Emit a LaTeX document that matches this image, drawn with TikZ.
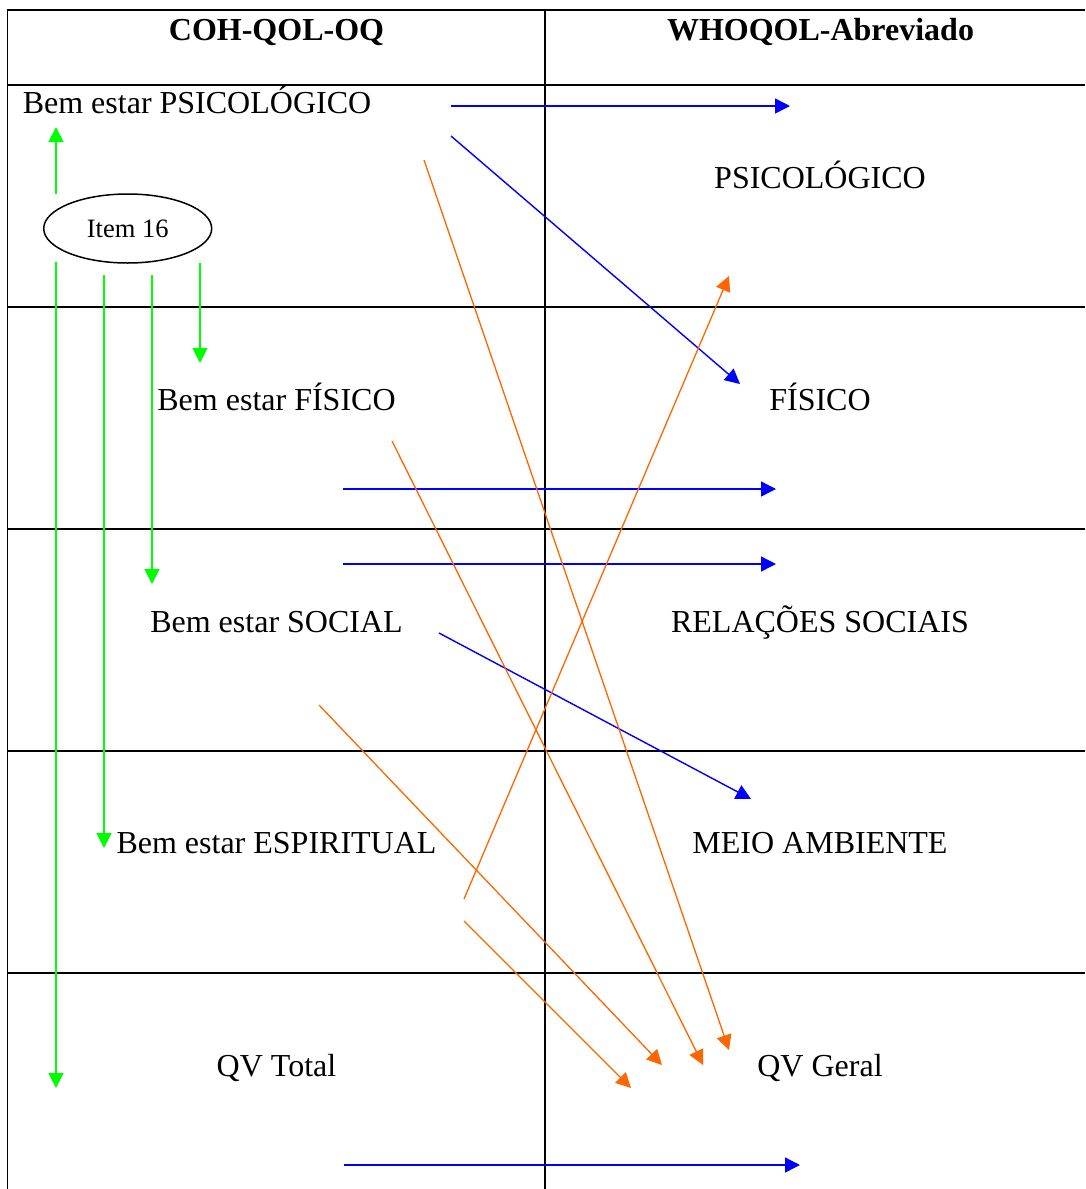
\documentclass[tikz,border=0pt]{standalone}
\usepackage{fontspec}
\setmainfont{Liberation Serif}
\usetikzlibrary{arrows.meta,shapes.geometric}
\definecolor{verde}{RGB}{0,255,0}
\definecolor{azul}{RGB}{0,0,255}
\definecolor{laranja}{RGB}{255,102,0}
\begin{document}
\begin{tikzpicture}[x=1pt,y=-1pt]
\tikzset{grade/.style={line width=1.5pt},
  rotulo/.style={font=\fontsize{32}{38}\selectfont, inner sep=0pt, anchor=base},
  titulo/.style={rotulo, font=\fontsize{32}{38}\selectfont\bfseries},
  seta/.style={-{Triangle[length=15pt,width=15pt]}},
  setaverde/.style={seta, draw=verde, line width=1.8pt},
  setaazul/.style={seta, draw=azul, fill=azul, line width=1.4pt},
  setalaranja/.style={seta, draw=laranja, fill=laranja, line width=1.3pt}}
\useasboundingbox (0,0) rectangle (1085,1189);
\draw[grade] (1085,10) -- (7.6,10) -- (7.6,1189);
\draw[grade] (545,10) -- (545,1189);
\foreach \y in {85,307,529,751,973}
  \draw[grade] (7.6,\y) -- (1085,\y);
\node[titulo] (coh) at (276.5,40) {COH-QOL-OQ};
\node[titulo] (who) at (820.5,40) {WHOQOL-Abreviado};
\node[rotulo, anchor=base west] (bpsi) at (22.6,113) {Bem estar PSICOLÓGICO};
\node[rotulo] (bfis) at (276.5,410) {Bem estar FÍSICO};
\node[rotulo] (bsoc) at (276.5,632) {Bem estar SOCIAL};
\node[rotulo] (besp) at (276.5,853) {Bem estar ESPIRITUAL};
\node[rotulo] (qvt) at (276.5,1076) {QV Total};
\node[rotulo] (wpsi) at (820,188) {PSICOLÓGICO};
\node[rotulo] (wfis) at (820,410) {FÍSICO};
\node[rotulo] (wrel) at (820,632) {RELAÇÕES SOCIAIS};
\node[rotulo] (wmei) at (820,853) {MEIO AMBIENTE};
\node[rotulo] (qvg) at (820,1076) {QV Geral};
\node[draw, ellipse, line width=1.5pt, minimum width=168pt, minimum height=69pt,
  font=\fontsize{26.5}{30}\selectfont] (item) at (127.7,228.5) {Item 16};
\coordinate (v0a) at (56,194);
\coordinate (v0b) at (56,127);
\coordinate (v1a) at (56,262);
\coordinate (v1b) at (56,1088);
\coordinate (v2a) at (104,275);
\coordinate (v2b) at (104,848);
\coordinate (v3a) at (152,275);
\coordinate (v3b) at (152,584);
\coordinate (v4a) at (200,263);
\coordinate (v4b) at (200,363);
\coordinate (a1a) at (451,106);
\coordinate (a1b) at (790,106);
\coordinate (a2a) at (451,136);
\coordinate (a2b) at (740,384);
\coordinate (a3a) at (343,489);
\coordinate (a3b) at (776,489);
\coordinate (a4a) at (343,564);
\coordinate (a4b) at (776,564);
\coordinate (a5a) at (439,633);
\coordinate (a5b) at (751,799);
\coordinate (a6a) at (344,1165);
\coordinate (a6b) at (800,1165);
\coordinate (l1a) at (424,160);
\coordinate (l1b) at (729,1050);
\coordinate (l2a) at (392,441);
\coordinate (l2b) at (703,1065);
\coordinate (l3a) at (464,899);
\coordinate (l3b) at (729,276);
\coordinate (l4a) at (319,705);
\coordinate (l4b) at (662,1065);
\coordinate (l5a) at (464,921);
\coordinate (l5b) at (631,1088);
\draw[setaverde] (v0a) -- (v0b);
\draw[setaverde] (v1a) -- (v1b);
\draw[setaverde] (v2a) -- (v2b);
\draw[setaverde] (v3a) -- (v3b);
\draw[setaverde] (v4a) -- (v4b);
\draw[setaazul] (a1a) -- (a1b);
\draw[setaazul] (a2a) -- (a2b);
\draw[setaazul] (a3a) -- (a3b);
\draw[setaazul] (a4a) -- (a4b);
\draw[setaazul] (a5a) -- (a5b);
\draw[setaazul] (a6a) -- (a6b);
\draw[setalaranja] (l1a) -- (l1b);
\draw[setalaranja] (l2a) -- (l2b);
\draw[setalaranja] (l3a) -- (l3b);
\draw[setalaranja] (l4a) -- (l4b);
\draw[setalaranja] (l5a) -- (l5b);
\end{tikzpicture}
\end{document}
